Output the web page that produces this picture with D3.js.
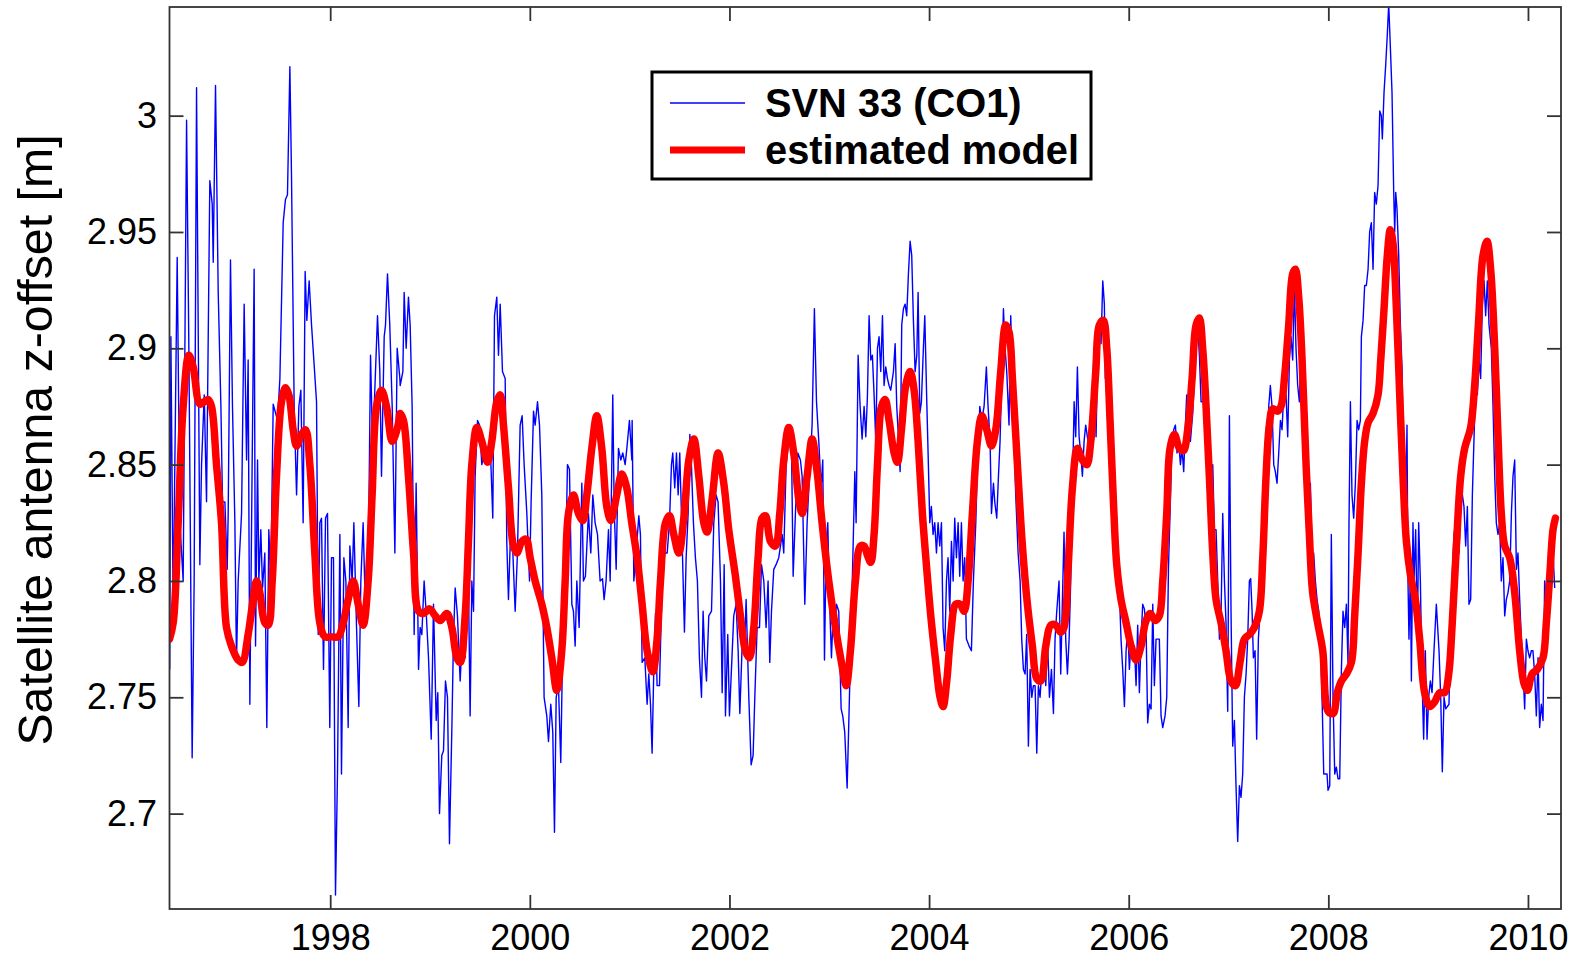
<!DOCTYPE html>
<html>
<head>
<meta charset="utf-8">
<script src="https://cdn.jsdelivr.net/npm/d3@7"></script>
<style>
  html, body { margin: 0; padding: 0; background: #ffffff; }
  svg { display: block; font-family: "Liberation Sans", Arial, Helvetica, sans-serif; }
</style>
</head>
<body>
<svg id="chart" width="1586" height="957"></svg>
<script>
// Axis ticks and labels
const xTickYears = [1998, 2000, 2002, 2004, 2006, 2008, 2010];
const yTickValues = [2.7, 2.75, 2.8, 2.85, 2.9, 2.95, 3.0];
const yAxisTitle = "Satellite antenna z-offset [m]";
const legendLabels = ["SVN 33 (CO1)", "estimated model"];

// Weekly z-offset estimates for SVN 33: [decimal year, metres]
const svn33 = [
  [1996.392,2.762],[1996.404,2.905],[1996.427,2.787],[1996.467,2.939],[1996.494,2.825],[1996.527,2.800],[1996.561,2.998],[1996.584,2.900],[1996.617,2.724],[1996.637,2.800],[1996.661,3.012],[1996.694,2.807],[1996.711,2.850],[1996.738,2.880],[1996.761,2.834],[1996.794,2.972],[1996.818,2.962],[1996.828,2.937],[1996.851,3.013],[1996.878,2.924],[1996.905,2.875],[1996.921,2.834],[1996.945,2.834],[1996.968,2.805],[1996.978,2.829],[1997.001,2.938],[1997.021,2.875],[1997.045,2.825],[1997.061,2.765],[1997.078,2.800],[1997.112,2.829],[1997.138,2.919],[1997.162,2.852],[1997.178,2.895],[1997.195,2.747],[1997.218,2.850],[1997.238,2.934],[1997.252,2.772],[1997.272,2.852],[1997.285,2.800],[1997.305,2.822],[1997.322,2.797],[1997.345,2.812],[1997.365,2.737],[1997.385,2.822],[1997.405,2.800],[1997.429,2.876],[1997.472,2.869],[1997.496,2.887],[1997.529,2.954],[1997.552,2.964],[1997.572,2.966],[1997.596,3.021],[1997.612,2.975],[1997.639,2.875],[1997.663,2.837],[1997.686,2.875],[1997.706,2.882],[1997.729,2.825],[1997.749,2.933],[1997.766,2.912],[1997.789,2.929],[1997.813,2.910],[1997.836,2.895],[1997.863,2.877],[1997.880,2.777],[1997.896,2.825],[1997.913,2.827],[1997.933,2.762],[1997.953,2.827],[1997.973,2.829],[1997.996,2.737],[1998.013,2.810],[1998.033,2.810],[1998.053,2.665],[1998.073,2.717],[1998.097,2.820],[1998.113,2.717],[1998.137,2.810],[1998.157,2.800],[1998.180,2.737],[1998.197,2.815],[1998.220,2.800],[1998.237,2.825],[1998.264,2.780],[1998.287,2.746],[1998.307,2.800],[1998.330,2.825],[1998.354,2.785],[1998.380,2.800],[1998.404,2.897],[1998.420,2.867],[1998.441,2.875],[1998.474,2.914],[1998.497,2.890],[1998.514,2.845],[1998.541,2.905],[1998.554,2.910],[1998.574,2.932],[1998.597,2.910],[1998.621,2.875],[1998.648,2.812],[1998.671,2.900],[1998.698,2.887],
  [1998.701,2.884],[1998.728,2.890],[1998.741,2.924],[1998.761,2.900],[1998.784,2.922],[1998.801,2.910],[1998.821,2.875],[1998.841,2.777],[1998.861,2.842],[1998.885,2.762],[1998.901,2.780],[1998.918,2.777],[1998.941,2.800],[1998.961,2.787],[1998.985,2.767],[1999.012,2.732],[1999.035,2.790],[1999.062,2.740],[1999.078,2.752],[1999.095,2.700],[1999.118,2.725],[1999.135,2.727],[1999.155,2.757],[1999.175,2.750],[1999.195,2.687],[1999.219,2.737],[1999.235,2.775],[1999.252,2.797],[1999.275,2.785],[1999.302,2.757],[1999.319,2.772],[1999.352,2.767],[1999.385,2.800],[1999.402,2.742],[1999.419,2.800],[1999.436,2.787],[1999.452,2.845],[1999.476,2.869],[1999.496,2.867],[1999.519,2.850],[1999.552,2.857],[1999.576,2.857],[1999.602,2.860],[1999.629,2.827],[1999.646,2.914],[1999.669,2.922],[1999.686,2.897],[1999.703,2.919],[1999.726,2.890],[1999.753,2.887],[1999.769,2.817],[1999.786,2.792],[1999.810,2.825],[1999.830,2.812],[1999.853,2.787],[1999.876,2.812],[1999.903,2.867],[1999.923,2.871],[1999.943,2.850],[1999.970,2.829],[1999.997,2.800],[2000.013,2.834],[2000.037,2.873],[2000.053,2.867],[2000.077,2.877],[2000.097,2.867],[2000.120,2.837],[2000.143,2.750],[2000.170,2.742],[2000.187,2.731],[2000.210,2.747],[2000.230,2.735],[2000.247,2.692],[2000.264,2.750],[2000.287,2.755],[2000.310,2.722],[2000.330,2.775],[2000.354,2.795],[2000.377,2.850],[2000.397,2.848],[2000.421,2.790],[2000.437,2.787],[2000.454,2.772],[2000.471,2.800],[2000.494,2.780],[2000.521,2.842],[2000.537,2.800],[2000.557,2.802],[2000.587,2.829],[2000.611,2.812],[2000.631,2.837],[2000.654,2.825],[2000.678,2.820],[2000.704,2.800],[2000.728,2.801],[2000.744,2.792],[2000.764,2.800],[2000.788,2.822],[2000.805,2.800],[2000.831,2.880],[2000.845,2.832],[2000.865,2.805],[2000.888,2.857],[2000.911,2.852],[2000.931,2.855],[2000.955,2.850],[2000.972,2.857],[2000.998,2.869],[2001.022,2.852],
  [2001.025,2.869],[2001.042,2.800],[2001.065,2.812],[2001.092,2.828],[2001.108,2.820],[2001.125,2.765],[2001.152,2.767],[2001.175,2.747],[2001.192,2.760],[2001.209,2.747],[2001.225,2.726],[2001.242,2.762],[2001.259,2.786],[2001.275,2.755],[2001.299,2.755],[2001.326,2.800],[2001.352,2.812],[2001.376,2.812],[2001.399,2.825],[2001.419,2.850],[2001.432,2.855],[2001.452,2.840],[2001.469,2.855],[2001.486,2.837],[2001.502,2.855],[2001.519,2.829],[2001.533,2.805],[2001.549,2.778],[2001.566,2.810],[2001.586,2.829],[2001.603,2.863],[2001.619,2.850],[2001.639,2.825],[2001.659,2.810],[2001.679,2.800],[2001.699,2.767],[2001.720,2.750],[2001.736,2.787],[2001.753,2.767],[2001.770,2.757],[2001.793,2.785],[2001.820,2.787],[2001.843,2.825],[2001.866,2.837],[2001.886,2.834],[2001.910,2.800],[2001.927,2.752],[2001.947,2.807],[2001.960,2.742],[2001.983,2.777],[2002.000,2.742],[2002.020,2.762],[2002.043,2.785],[2002.067,2.790],[2002.087,2.770],[2002.104,2.743],[2002.127,2.772],[2002.150,2.770],[2002.167,2.792],[2002.194,2.750],[2002.217,2.721],[2002.237,2.725],[2002.254,2.750],[2002.277,2.780],[2002.301,2.780],[2002.321,2.807],[2002.344,2.800],[2002.367,2.780],[2002.387,2.800],[2002.404,2.765],[2002.421,2.787],[2002.444,2.805],[2002.467,2.807],[2002.494,2.810],[2002.528,2.820],[2002.544,2.812],[2002.568,2.850],[2002.594,2.860],[2002.621,2.860],[2002.638,2.802],[2002.661,2.829],[2002.685,2.855],[2002.711,2.852],[2002.728,2.845],[2002.755,2.790],[2002.778,2.825],[2002.801,2.845],[2002.828,2.867],[2002.851,2.917],[2002.872,2.877],[2002.895,2.860],[2002.918,2.840],[2002.935,2.852],[2002.952,2.766],[2002.968,2.812],[2002.985,2.825],[2003.002,2.792],[2003.022,2.767],[2003.038,2.785],[2003.055,2.780],[2003.072,2.790],[2003.095,2.787],[2003.119,2.745],[2003.135,2.742],[2003.155,2.735],[2003.179,2.711],[2003.202,2.750],[2003.222,2.785],[2003.239,2.815],[2003.256,2.847],[2003.269,2.825],[2003.289,2.897],[2003.309,2.875],[2003.329,2.861],
  [2003.349,2.875],[2003.366,2.862],[2003.382,2.879],[2003.399,2.914],[2003.416,2.895],[2003.432,2.897],[2003.449,2.880],[2003.466,2.860],[2003.483,2.900],[2003.499,2.905],[2003.516,2.890],[2003.533,2.914],[2003.549,2.884],[2003.566,2.892],[2003.583,2.887],[2003.599,2.884],[2003.616,2.882],[2003.643,2.890],[2003.660,2.902],[2003.676,2.875],[2003.693,2.862],[2003.710,2.847],[2003.726,2.910],[2003.743,2.917],[2003.760,2.919],[2003.776,2.914],[2003.793,2.932],[2003.810,2.946],[2003.826,2.940],[2003.843,2.912],[2003.860,2.890],[2003.877,2.897],[2003.890,2.924],[2003.907,2.872],[2003.923,2.877],[2003.943,2.900],[2003.957,2.914],[2003.977,2.877],[2003.993,2.850],[2004.007,2.825],[2004.023,2.832],[2004.040,2.820],[2004.057,2.825],[2004.074,2.812],[2004.090,2.825],[2004.107,2.815],[2004.124,2.825],[2004.140,2.780],[2004.157,2.770],[2004.174,2.800],[2004.190,2.810],[2004.207,2.787],[2004.224,2.817],[2004.241,2.800],[2004.257,2.827],[2004.274,2.810],[2004.291,2.825],[2004.307,2.802],[2004.324,2.825],[2004.341,2.800],[2004.357,2.810],[2004.374,2.775],[2004.401,2.772],[2004.424,2.770],[2004.444,2.800],[2004.468,2.825],[2004.484,2.850],[2004.508,2.875],[2004.528,2.869],[2004.551,2.875],[2004.574,2.892],[2004.591,2.875],[2004.611,2.860],[2004.625,2.829],[2004.645,2.842],[2004.658,2.834],[2004.678,2.827],[2004.695,2.845],[2004.711,2.860],[2004.728,2.887],[2004.745,2.917],[2004.761,2.900],[2004.778,2.890],[2004.801,2.867],[2004.818,2.914],[2004.835,2.887],[2004.852,2.860],[2004.868,2.837],[2004.892,2.812],[2004.912,2.800],[2004.928,2.775],[2004.945,2.762],[2004.962,2.760],[2004.978,2.777],[2004.995,2.729],[2005.012,2.762],[2005.029,2.750],[2005.045,2.755],[2005.062,2.755],[2005.079,2.726],[2005.095,2.755],[2005.112,2.750],[2005.129,2.762],[2005.152,2.775],[2005.169,2.755],[2005.186,2.775],[2005.206,2.750],[2005.226,2.762],[2005.246,2.743],[2005.262,2.775],[2005.279,2.787],[2005.302,2.800],[2005.319,2.760],[2005.336,2.792],[2005.352,2.821],[2005.369,2.775],[2005.386,2.760],[2005.403,2.775],[2005.419,2.800],[2005.436,2.837],[2005.453,2.877],[2005.469,2.862],[2005.486,2.892],[2005.503,2.862],[2005.519,2.855],[2005.536,2.845],[2005.553,2.860],[2005.569,2.867],[2005.593,2.860],[2005.613,2.867],[2005.636,2.880],[2005.653,2.900],
  [2005.673,2.862],[2005.690,2.900],[2005.706,2.910],[2005.723,2.902],[2005.740,2.929],[2005.756,2.919],[2005.766,2.887],[2005.790,2.887],[2005.807,2.875],[2005.823,2.850],[2005.840,2.817],[2005.857,2.817],[2005.873,2.800],[2005.890,2.800],[2005.907,2.795],[2005.923,2.775],[2005.940,2.762],[2005.957,2.746],[2005.974,2.770],[2005.990,2.780],[2006.007,2.762],[2006.024,2.775],[2006.040,2.770],[2006.057,2.772],[2006.074,2.755],[2006.090,2.781],[2006.107,2.752],[2006.124,2.775],[2006.140,2.790],[2006.157,2.788],[2006.174,2.780],[2006.190,2.739],[2006.207,2.747],[2006.224,2.745],[2006.241,2.790],[2006.257,2.755],[2006.274,2.775],[2006.291,2.775],[2006.307,2.775],[2006.324,2.742],[2006.341,2.737],[2006.364,2.742],[2006.381,2.750],[2006.398,2.805],[2006.414,2.829],[2006.434,2.860],[2006.451,2.865],[2006.468,2.867],[2006.484,2.855],[2006.501,2.860],[2006.518,2.850],[2006.534,2.857],[2006.551,2.847],[2006.568,2.867],[2006.581,2.880],[2006.598,2.875],[2006.618,2.860],[2006.641,2.872],[2006.658,2.887],[2006.675,2.900],[2006.691,2.910],[2006.708,2.897],[2006.725,2.877],[2006.741,2.877],[2006.758,2.900],[2006.775,2.887],[2006.792,2.875],[2006.808,2.857],[2006.825,2.845],[2006.842,2.850],[2006.858,2.822],[2006.875,2.822],[2006.892,2.800],[2006.909,2.775],[2006.925,2.785],[2006.942,2.829],[2006.959,2.800],[2006.975,2.782],[2006.992,2.744],[2007.009,2.871],[2007.025,2.787],[2007.042,2.729],[2007.059,2.740],[2007.075,2.712],[2007.092,2.688],[2007.109,2.712],[2007.125,2.707],[2007.142,2.717],[2007.159,2.750],[2007.176,2.760],[2007.192,2.775],[2007.209,2.800],[2007.222,2.801],[2007.236,2.787],[2007.249,2.767],[2007.266,2.770],[2007.282,2.732],[2007.299,2.775],[2007.316,2.787],[2007.336,2.805],[2007.353,2.832],[2007.369,2.850],[2007.386,2.842],[2007.403,2.875],[2007.419,2.884],[2007.436,2.875],[2007.453,2.850],[2007.469,2.847],[2007.486,2.842],[2007.503,2.855],[2007.520,2.869],[2007.536,2.865],[2007.553,2.880],[2007.576,2.880],[2007.593,2.862],[2007.610,2.895],[2007.626,2.905],[2007.643,2.895],[2007.660,2.927],[2007.676,2.900],[2007.693,2.884],[2007.710,2.877],[2007.726,2.900],[2007.743,2.895],[2007.760,2.869],[2007.783,2.850],[2007.803,2.834],[2007.820,2.842],[2007.837,2.812],[2007.853,2.812],[2007.870,2.800],[2007.887,2.792],[2007.904,2.787],[2007.920,2.775],[2007.937,2.750],[2007.954,2.717],[2007.970,2.717],[2007.987,2.717],
  [2007.997,2.710],[2008.014,2.712],[2008.030,2.820],[2008.047,2.750],[2008.064,2.717],[2008.080,2.720],[2008.097,2.715],[2008.114,2.715],[2008.131,2.762],[2008.147,2.787],[2008.164,2.780],[2008.181,2.790],[2008.197,2.765],[2008.207,2.825],[2008.221,2.877],[2008.237,2.837],[2008.254,2.827],[2008.271,2.842],[2008.288,2.869],[2008.304,2.865],[2008.321,2.869],[2008.331,2.905],[2008.348,2.912],[2008.364,2.927],[2008.381,2.927],[2008.398,2.934],[2008.414,2.950],[2008.431,2.954],[2008.448,2.934],[2008.464,2.967],[2008.481,2.962],[2008.498,2.970],[2008.515,3.002],[2008.531,3.000],[2008.541,2.990],[2008.558,3.010],[2008.575,3.022],[2008.591,3.035],[2008.605,3.048],[2008.621,3.030],[2008.638,3.010],[2008.655,2.967],[2008.665,2.950],[2008.675,2.967],[2008.688,2.960],[2008.705,2.940],[2008.722,2.910],[2008.738,2.892],[2008.755,2.850],[2008.772,2.815],[2008.788,2.867],[2008.798,2.800],[2008.808,2.775],[2008.822,2.805],[2008.832,2.757],[2008.848,2.825],[2008.858,2.800],[2008.875,2.822],[2008.892,2.775],[2008.905,2.825],[2008.922,2.800],[2008.939,2.757],[2008.955,2.732],[2008.972,2.770],[2008.989,2.732],[2009.005,2.750],[2009.022,2.757],[2009.039,2.752],[2009.055,2.767],[2009.082,2.790],[2009.109,2.770],[2009.126,2.750],[2009.142,2.718],[2009.159,2.750],[2009.176,2.745],[2009.192,2.746],[2009.209,2.747],[2009.226,2.787],[2009.239,2.800],[2009.259,2.820],[2009.276,2.825],[2009.293,2.829],[2009.309,2.812],[2009.326,2.832],[2009.343,2.837],[2009.359,2.832],[2009.376,2.815],[2009.393,2.832],[2009.409,2.790],[2009.426,2.792],[2009.443,2.837],[2009.460,2.862],[2009.476,2.887],[2009.493,2.880],[2009.510,2.895],[2009.526,2.887],[2009.543,2.919],[2009.560,2.929],[2009.576,2.914],[2009.593,2.929],[2009.610,2.910],[2009.633,2.900],[2009.650,2.875],[2009.667,2.845],[2009.683,2.825],[2009.700,2.820],[2009.717,2.825],[2009.733,2.800],[2009.750,2.810],[2009.767,2.785],[2009.783,2.792],[2009.800,2.795],[2009.817,2.800],[2009.834,2.829],[2009.850,2.845],[2009.867,2.852],[2009.884,2.805],[2009.900,2.812],[2009.917,2.792],[2009.934,2.775],[2009.950,2.762],[2009.967,2.745],[2009.984,2.775],[2010.000,2.770],[2010.017,2.767],[2010.034,2.770],[2010.050,2.770],[2010.067,2.760],[2010.084,2.742],[2010.101,2.767],[2010.117,2.737],[2010.134,2.747],[2010.151,2.740],[2010.167,2.800],[2010.184,2.792],[2010.201,2.800],[2010.218,2.792],[2010.234,2.800],[2010.251,2.812],[2010.268,2.797]
];

// Fitted model: [decimal year, metres]
const estimatedModel = [
  [1996.390,2.775],[1996.427,2.782],[1996.477,2.825],[1996.527,2.875],[1996.584,2.897],[1996.627,2.892],[1996.694,2.876],[1996.738,2.877],[1996.778,2.878],[1996.811,2.875],[1996.861,2.850],[1996.911,2.825],[1996.961,2.780],[1997.011,2.772],[1997.078,2.766],[1997.118,2.765],[1997.178,2.777],[1997.228,2.792],[1997.262,2.800],[1997.295,2.795],[1997.345,2.782],[1997.379,2.781],[1997.419,2.800],[1997.462,2.845],[1997.512,2.877],[1997.552,2.883],[1997.586,2.880],[1997.629,2.865],[1997.663,2.858],[1997.713,2.863],[1997.753,2.865],[1997.796,2.850],[1997.846,2.812],[1997.896,2.782],[1997.946,2.776],[1998.013,2.776],[1998.080,2.776],[1998.130,2.782],[1998.180,2.792],[1998.230,2.800],[1998.280,2.790],[1998.330,2.781],[1998.380,2.800],[1998.420,2.837],[1998.464,2.875],[1998.514,2.882],[1998.564,2.875],[1998.621,2.860],[1998.681,2.867],
  [1998.701,2.872],[1998.734,2.869],[1998.784,2.845],[1998.835,2.812],[1998.885,2.787],[1998.935,2.786],[1998.995,2.788],[1999.052,2.785],[1999.102,2.783],[1999.168,2.786],[1999.219,2.780],[1999.269,2.767],[1999.302,2.765],[1999.352,2.785],[1999.385,2.817],[1999.419,2.850],[1999.469,2.866],[1999.519,2.860],[1999.576,2.851],[1999.619,2.860],[1999.669,2.877],[1999.703,2.880],[1999.736,2.867],[1999.786,2.840],[1999.836,2.815],[1999.870,2.812],[1999.920,2.817],[1999.963,2.818],[2000.003,2.810],[2000.053,2.800],[2000.120,2.790],[2000.170,2.780],[2000.220,2.767],[2000.270,2.753],[2000.320,2.770],[2000.354,2.800],[2000.387,2.829],[2000.437,2.837],[2000.487,2.829],[2000.531,2.826],[2000.571,2.837],[2000.621,2.857],[2000.671,2.871],[2000.721,2.857],[2000.771,2.832],[2000.811,2.826],[2000.871,2.837],[2000.921,2.846],[2000.971,2.840],[2001.021,2.825],
  [2001.075,2.810],[2001.125,2.790],[2001.175,2.770],[2001.232,2.761],[2001.275,2.775],[2001.309,2.800],[2001.359,2.825],[2001.399,2.828],[2001.442,2.820],[2001.492,2.812],[2001.543,2.827],[2001.593,2.852],[2001.643,2.861],[2001.693,2.845],[2001.743,2.825],[2001.776,2.821],[2001.826,2.835],[2001.886,2.855],[2001.943,2.842],[2001.993,2.822],[2002.060,2.802],[2002.110,2.785],[2002.160,2.770],[2002.200,2.767],[2002.244,2.780],[2002.287,2.810],[2002.327,2.827],[2002.361,2.828],[2002.411,2.817],[2002.461,2.815],[2002.504,2.829],[2002.544,2.852],[2002.594,2.866],[2002.644,2.855],[2002.695,2.835],[2002.728,2.829],[2002.778,2.845],[2002.828,2.861],[2002.878,2.847],[2002.928,2.825],[2002.995,2.800],[2003.062,2.780],[2003.122,2.765],[2003.169,2.755],[2003.212,2.770],[2003.262,2.800],[2003.312,2.815],
  [2003.349,2.815],[2003.382,2.811],[2003.416,2.808],[2003.449,2.820],[2003.483,2.850],[2003.523,2.875],[2003.559,2.878],[2003.599,2.869],[2003.650,2.855],[2003.683,2.851],[2003.723,2.865],[2003.766,2.884],[2003.810,2.890],[2003.850,2.882],[2003.890,2.860],[2003.933,2.829],[2003.977,2.805],[2004.017,2.785],[2004.067,2.765],[2004.110,2.750],[2004.140,2.746],[2004.177,2.757],[2004.217,2.777],[2004.267,2.790],[2004.311,2.790],[2004.351,2.787],[2004.391,2.800],[2004.434,2.829],[2004.484,2.860],[2004.528,2.871],[2004.578,2.865],[2004.625,2.858],[2004.668,2.865],[2004.718,2.890],[2004.768,2.910],[2004.801,2.907],[2004.835,2.887],[2004.885,2.850],[2004.935,2.815],[2004.985,2.790],[2005.035,2.772],[2005.079,2.758],[2005.119,2.757],[2005.169,2.772],[2005.219,2.781],[2005.269,2.781],[2005.319,2.778],[2005.352,2.780],[2005.392,2.805],[2005.436,2.840],[2005.486,2.857],[2005.536,2.852],[2005.580,2.850],[2005.620,2.860],[2005.670,2.890],
  [2005.706,2.910],[2005.746,2.912],[2005.780,2.900],[2005.813,2.869],[2005.847,2.834],[2005.880,2.807],[2005.923,2.792],[2005.974,2.782],[2006.024,2.772],[2006.074,2.766],[2006.124,2.772],[2006.167,2.782],[2006.214,2.786],[2006.267,2.783],[2006.307,2.785],[2006.341,2.800],[2006.381,2.829],[2006.414,2.857],[2006.458,2.863],[2006.508,2.857],[2006.548,2.856],[2006.591,2.865],[2006.635,2.887],[2006.675,2.910],[2006.708,2.913],[2006.741,2.900],[2006.775,2.875],[2006.808,2.845],[2006.842,2.812],[2006.875,2.792],[2006.925,2.782],[2006.975,2.770],[2007.025,2.757],[2007.069,2.755],[2007.115,2.765],[2007.159,2.775],[2007.209,2.777],[2007.259,2.780],[2007.309,2.787],[2007.343,2.810],[2007.376,2.845],[2007.409,2.867],[2007.443,2.874],[2007.493,2.873],[2007.526,2.875],[2007.560,2.887],[2007.603,2.910],[2007.643,2.932],[2007.670,2.934],[2007.703,2.922],[2007.737,2.895],[2007.777,2.850],[2007.810,2.820],[2007.843,2.795],[2007.893,2.782],[2007.944,2.770],
  [2007.997,2.744],[2008.047,2.743],[2008.090,2.752],[2008.131,2.757],[2008.181,2.760],[2008.231,2.765],[2008.264,2.785],[2008.298,2.812],[2008.331,2.842],[2008.364,2.860],[2008.398,2.868],[2008.448,2.872],[2008.498,2.880],[2008.525,2.895],[2008.558,2.917],[2008.591,2.940],[2008.621,2.951],[2008.648,2.945],[2008.682,2.917],[2008.715,2.880],[2008.748,2.845],[2008.782,2.817],[2008.825,2.802],[2008.872,2.792],[2008.915,2.775],[2008.965,2.752],[2009.015,2.746],[2009.065,2.748],[2009.116,2.752],[2009.166,2.752],[2009.206,2.760],[2009.239,2.780],[2009.283,2.815],[2009.326,2.845],[2009.366,2.857],[2009.426,2.866],[2009.466,2.884],[2009.506,2.912],[2009.550,2.940],[2009.590,2.946],[2009.626,2.934],[2009.667,2.900],[2009.700,2.862],[2009.733,2.829],[2009.767,2.815],[2009.817,2.810],[2009.867,2.795],[2009.917,2.770],[2009.960,2.756],[2009.994,2.753],[2010.041,2.760],[2010.094,2.762],[2010.151,2.767],[2010.184,2.782],[2010.218,2.802],[2010.251,2.822],[2010.275,2.827]
];

// ---- layout ----
const plot = { left: 169.5, right: 1561, top: 7, bottom: 909 };
const axisColor = "#333333";
const tickLen = 14;

const svg = d3.select("#chart");

const x = d3.scaleLinear().domain([1996.39, 2010.331]).range([plot.left, plot.right]);
const y = d3.scaleLinear().domain([2.659, 3.0467]).range([plot.bottom, plot.top]);

svg.append("rect").attr("width", 1586).attr("height", 957).attr("fill", "#ffffff");

svg.append("defs").append("clipPath").attr("id", "plot-clip")
  .append("rect")
  .attr("x", plot.left).attr("y", plot.top)
  .attr("width", plot.right - plot.left).attr("height", plot.bottom - plot.top);

// ---- series ----
const dataLayer = svg.append("g").attr("clip-path", "url(#plot-clip)");

const blueLine = d3.line().x(d => x(d[0])).y(d => y(d[1]));
const redLine = d3.line().x(d => x(d[0])).y(d => y(d[1])).curve(d3.curveCatmullRom.alpha(0.5));

dataLayer.append("path")
  .datum(svn33)
  .attr("d", blueLine)
  .attr("fill", "none")
  .attr("stroke", "#0000ff")
  .attr("stroke-width", 1.4)
  .attr("stroke-linejoin", "round");

dataLayer.append("path")
  .datum(estimatedModel)
  .attr("d", redLine)
  .attr("fill", "none")
  .attr("stroke", "#ff0000")
  .attr("stroke-width", 7.5)
  .attr("stroke-linejoin", "round")
  .attr("stroke-linecap", "round");

// ---- axes (ticks drawn inward on all four sides) ----
const fmtY = d => String(+d.toFixed(2));

function styleAxis(g, fontSize) {
  g.attr("font-family", '"Liberation Sans", Arial, Helvetica, sans-serif')
   .attr("font-size", fontSize);
  g.select(".domain").remove();
  g.selectAll(".tick line").attr("stroke", axisColor).attr("stroke-width", 1.8);
  g.selectAll(".tick text").attr("fill", "#000000");
}

svg.append("g")
  .attr("transform", `translate(0,${plot.bottom})`)
  .call(d3.axisBottom(x).tickValues(xTickYears).tickSize(-tickLen).tickPadding(15).tickFormat(d3.format("d")))
  .call(g => styleAxis(g, 36));

svg.append("g")
  .attr("transform", `translate(0,${plot.top})`)
  .call(d3.axisTop(x).tickValues(xTickYears).tickSize(-tickLen).tickFormat(""))
  .call(g => styleAxis(g, 36));

svg.append("g")
  .attr("transform", `translate(${plot.left},0)`)
  .call(d3.axisLeft(y).tickValues(yTickValues).tickSize(-tickLen).tickPadding(12.5).tickFormat(fmtY))
  .call(g => styleAxis(g, 36));

svg.append("g")
  .attr("transform", `translate(${plot.right},0)`)
  .call(d3.axisRight(y).tickValues(yTickValues).tickSize(-tickLen).tickFormat(""))
  .call(g => styleAxis(g, 36));

// plot frame
svg.append("rect")
  .attr("x", plot.left).attr("y", plot.top)
  .attr("width", plot.right - plot.left).attr("height", plot.bottom - plot.top)
  .attr("fill", "none")
  .attr("stroke", axisColor)
  .attr("stroke-width", 1.8);

// y-axis title
svg.append("text")
  .attr("transform", "translate(52,440) rotate(-90)")
  .attr("text-anchor", "middle")
  .attr("font-size", 48.3)
  .attr("fill", "#000000")
  .text(yAxisTitle);

// ---- legend ----
const legend = svg.append("g");
legend.append("rect")
  .attr("x", 652).attr("y", 72)
  .attr("width", 439).attr("height", 107)
  .attr("fill", "#ffffff")
  .attr("stroke", "#000000")
  .attr("stroke-width", 3);

const legendItems = [
  { label: legendLabels[0], color: "#0000ff", width: 1.4, y: 103 },
  { label: legendLabels[1], color: "#ff0000", width: 7, y: 150 }
];
legendItems.forEach(item => {
  legend.append("line")
    .attr("x1", 670).attr("x2", 745)
    .attr("y1", item.y).attr("y2", item.y)
    .attr("stroke", item.color)
    .attr("stroke-width", item.width);
  legend.append("text")
    .attr("x", 765).attr("y", item.y + 13.5)
    .attr("font-size", 39.8)
    .attr("font-weight", "bold")
    .attr("fill", "#000000")
    .text(item.label);
});
</script>
</body>
</html>
